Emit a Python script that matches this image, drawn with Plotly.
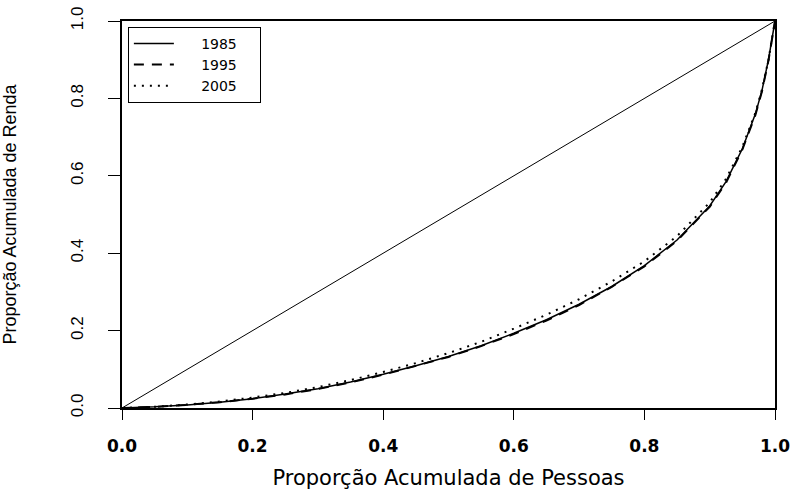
import plotly.graph_objects as go

# Cumulative proportion of people (x) and of income (y) - Lorenz curves
pessoas = [0, 0.05, 0.1, 0.15, 0.2, 0.25, 0.3, 0.35, 0.4, 0.45, 0.5, 0.55, 0.6,
           0.65, 0.7, 0.75, 0.8, 0.85, 0.9, 0.925, 0.95, 0.97, 0.98, 0.99, 1.0]
renda_1985 = [0, 0.003, 0.008, 0.015, 0.024, 0.036, 0.050, 0.067, 0.087, 0.109, 0.133,
              0.161, 0.193, 0.228, 0.268, 0.314, 0.368, 0.434, 0.522, 0.585, 0.670,
              0.760, 0.820, 0.900, 1.0]
renda_1995 = [0, 0.003, 0.008, 0.015, 0.024, 0.035, 0.049, 0.066, 0.086, 0.108, 0.132,
              0.160, 0.191, 0.226, 0.266, 0.313, 0.366, 0.432, 0.520, 0.582, 0.668,
              0.757, 0.818, 0.898, 1.0]
renda_2005 = [0, 0.003, 0.009, 0.017, 0.027, 0.039, 0.054, 0.072, 0.093, 0.116, 0.142,
              0.171, 0.205, 0.241, 0.281, 0.327, 0.379, 0.444, 0.531, 0.592, 0.675,
              0.763, 0.823, 0.900, 1.0]
igualdade_x = [0, 1]
igualdade_y = [0, 1]
anos = ["1985", "1995", "2005"]
tick_vals = [0.0, 0.2, 0.4, 0.6, 0.8, 1.0]
tick_text = ["0.0", "0.2", "0.4", "0.6", "0.8", "1.0"]

fig = go.Figure()
fig.add_trace(go.Scatter(x=igualdade_x, y=igualdade_y, mode="lines",
                         line=dict(color="black", width=1), showlegend=False))
styles = ["solid", "10px,8px", "2px,6px"]
widths = [1.5, 2, 2]
pad = "\u00a0" * 5
for nome, ys, dash, w in zip(anos, [renda_1985, renda_1995, renda_2005], styles, widths):
    fig.add_trace(go.Scatter(x=pessoas, y=ys, mode="lines", name=pad + nome + "\u00a0" * 4,
                             line=dict(color="black", width=w, dash=dash)))

fig.update_layout(
    width=795, height=493,
    margin=dict(l=122, r=20, t=21, b=85),
    plot_bgcolor="white", paper_bgcolor="white",
    font=dict(family="Liberation Sans, Arial, sans-serif", color="black"),
    legend=dict(x=0.009, y=0.985, xanchor="left", yanchor="top",
                bordercolor="black", borderwidth=1, bgcolor="white",
                font=dict(family="DejaVu Sans", size=14), itemwidth=40,
                tracegroupgap=0),
)
fig.update_xaxes(range=[0, 1], tickvals=tick_vals, ticktext=tick_text, automargin=False,
                 showgrid=False, zeroline=False, showline=True, linecolor="black",
                 linewidth=2, mirror=True, ticks="outside", ticklen=10, tickwidth=1,
                 tickcolor="black", ticklabelstandoff=12,
                 tickfont=dict(family="DejaVu Sans", size=17, weight="bold"),
                 title=dict(text="Proporção Acumulada de Pessoas",
                            font=dict(family="DejaVu Sans", size=21), standoff=15))
fig.update_yaxes(range=[0, 1], tickvals=tick_vals, ticktext=tick_text, automargin=False,
                 showgrid=False, zeroline=False, showline=True, linecolor="black",
                 linewidth=2, mirror=True, ticks="outside", ticklen=12, tickwidth=1,
                 tickcolor="black", tickangle=-90, ticklabelstandoff=18,
                 tickfont=dict(family="Liberation Sans Narrow, Liberation Sans", size=17),
                 title=dict(text="Proporção Acumulada de Renda",
                            font=dict(family="Liberation Sans Narrow, Liberation Sans", size=18),
                            standoff=52))

fig.write_html("out.html")
